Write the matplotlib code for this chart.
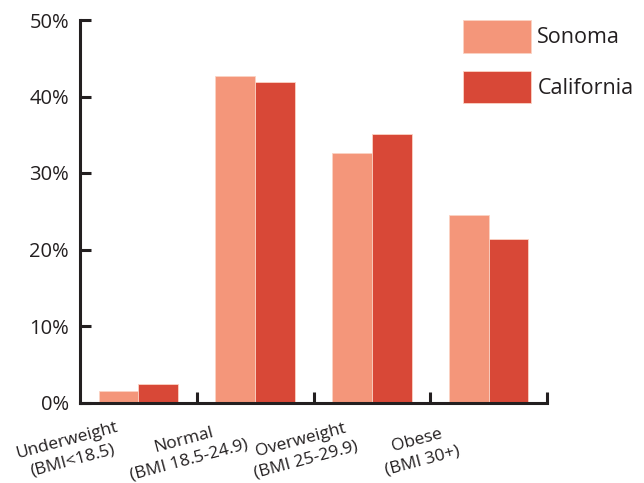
import matplotlib.pyplot as plt
import matplotlib.transforms as mtransforms
import numpy as np
from matplotlib.ticker import PercentFormatter

plt.rcParams['font.family'] = ['Open Sans', 'DejaVu Sans']

categories = ["Underweight\n(BMI<18.5)", "Normal\n(BMI 18.5-24.9)",
              "Overweight\n(BMI 25-29.9)", "Obese\n(BMI 30+)"]
sonoma = [1.5, 42.7, 32.6, 24.5]
california = [2.4, 41.9, 35.1, 21.4]

c_son = "#F4967A"
c_cal = "#D84837"
dark = "#231F20"

fig = plt.figure(figsize=(6.44, 4.83), dpi=100)
ax = fig.add_axes([80 / 644, 1 - 402.5 / 483, 467 / 644, 382.5 / 483])

x = np.arange(len(categories))
w = 0.34
ax.bar(x - w / 2, sonoma, w, color=c_son, edgecolor="#FBD3C4", linewidth=0.6, label="Sonoma")
ax.bar(x + w / 2, california, w, color=c_cal, edgecolor="#FBD3C4", linewidth=0.6, label="California")

ax.set_xlim(-0.5, 3.5)
ax.set_ylim(0, 50)
ax.yaxis.set_major_formatter(PercentFormatter(decimals=0))
ax.set_yticks([0, 10, 20, 30, 40, 50])

ax.set_xticks([0.5, 1.5, 2.5, 3.5])
ax.set_xticklabels([])
ax.tick_params(axis="x", direction="in", length=8, width=2.2, color=dark)
ax.tick_params(axis="y", direction="in", length=8, width=2.2, color=dark, labelsize=14.5,
               labelcolor=dark, pad=8)

# category labels, rotated and shifted left of the group centre
trans = mtransforms.blended_transform_factory(ax.transData, ax.transAxes)
for xi, lab in zip(x, categories):
    ax.text(xi - 0.59, -0.125, lab, transform=trans, rotation=15, rotation_mode="anchor",
            ha="center", va="center", fontsize=12.5, color=dark, linespacing=1.4)

for s in ["top", "right"]:
    ax.spines[s].set_visible(False)
for s in ["left", "bottom"]:
    ax.spines[s].set_linewidth(2.2)
    ax.spines[s].set_color(dark)

ax.legend(loc="upper left", bbox_to_anchor=(463 / 644, 1 - 20 / 483), bbox_transform=fig.transFigure,
          frameon=False, fontsize=15.5, handlelength=3.15, handleheight=1.95, labelspacing=0.85,
          handletextpad=0.3, borderaxespad=0, borderpad=0, labelcolor=dark)

fig.savefig("out.png", dpi=100)
